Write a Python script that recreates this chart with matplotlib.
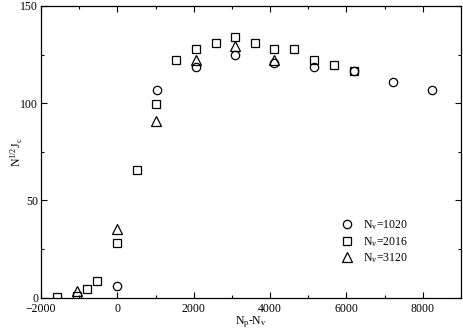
import matplotlib
matplotlib.use("Agg")
import matplotlib.pyplot as plt
from matplotlib.ticker import MultipleLocator

plt.rcParams['font.family'] = ['Liberation Serif', 'DejaVu Serif']
plt.rcParams['mathtext.fontset'] = 'custom'
plt.rcParams['mathtext.rm'] = 'Liberation Serif'
plt.rcParams['mathtext.it'] = 'Liberation Serif'

# N_v = 1020 (circles)
x1020 = [0, 1025, 2055, 3085, 4105, 5145, 6195, 7225, 8250]
y1020 = [6.0, 106.6, 118.8, 124.6, 120.8, 118.8, 116.6, 110.7, 106.6]

# N_v = 2016 (squares)
x2016 = [-1577, -1048, -802, -546, 0, 511, 1022, 1533, 2053, 2573, 3084,
         3595, 4106, 4634, 5145, 5674, 6194]
y2016 = [0.5, 0.9, 4.3, 8.6, 28.3, 65.5, 99.6, 122.4, 128.0, 130.8, 133.9,
         130.8, 128.0, 128.0, 122.2, 119.5, 116.7]

# N_v = 3120 (triangles)
x3120 = [-1057, 0, 1022, 2053, 3084, 4106]
y3120 = [3.6, 35.1, 91.0, 122.2, 129.4, 122.2]

labels = [r'N$_\mathregular{v}$=1020', r'N$_\mathregular{v}$=2016', r'N$_\mathregular{v}$=3120']

fig = plt.figure(figsize=(4.63, 3.30), dpi=100)
ax = fig.add_axes([0.0886, 0.098, 0.907, 0.884])

kw = dict(linestyle='none', markerfacecolor='none', markeredgecolor='black',
          markeredgewidth=0.9)
ax.plot(x1020, y1020, marker='o', markersize=6, label=labels[0], **kw)
ax.plot(x2016, y2016, marker='s', markersize=5.5, label=labels[1], **kw)
ax.plot(x3120, y3120, marker='^', markersize=6.5, label=labels[2], **kw)

ax.set_xlim(-2000, 9000)
ax.set_ylim(0, 150)
ax.xaxis.set_major_locator(MultipleLocator(2000))
ax.xaxis.set_minor_locator(MultipleLocator(1000))
ax.yaxis.set_major_locator(MultipleLocator(50))
ax.yaxis.set_minor_locator(MultipleLocator(25))
ax.tick_params(which='both', direction='in', top=True, right=True,
               labelsize=8.5, width=0.8)
ax.tick_params(axis='x', pad=3.5)
ax.tick_params(axis='y', pad=2)
ax.tick_params(which='major', length=4)
ax.tick_params(which='minor', length=2)
for s in ax.spines.values():
    s.set_linewidth(0.9)

ax.set_xlabel(r'N$_\mathregular{p}$-N$_\mathregular{v}$', fontsize=8.5, labelpad=-0.5)
ax.set_ylabel(r'N$^\mathregular{1/2}$J$_\mathregular{c}$', fontsize=8.5, labelpad=-3)

ax.legend(loc='lower right', bbox_to_anchor=(0.885, 0.096), frameon=False,
          fontsize=8.5, handletextpad=0.8, labelspacing=0.22, borderaxespad=0,
          handlelength=1.2)

fig.savefig('out.png', dpi=100)
